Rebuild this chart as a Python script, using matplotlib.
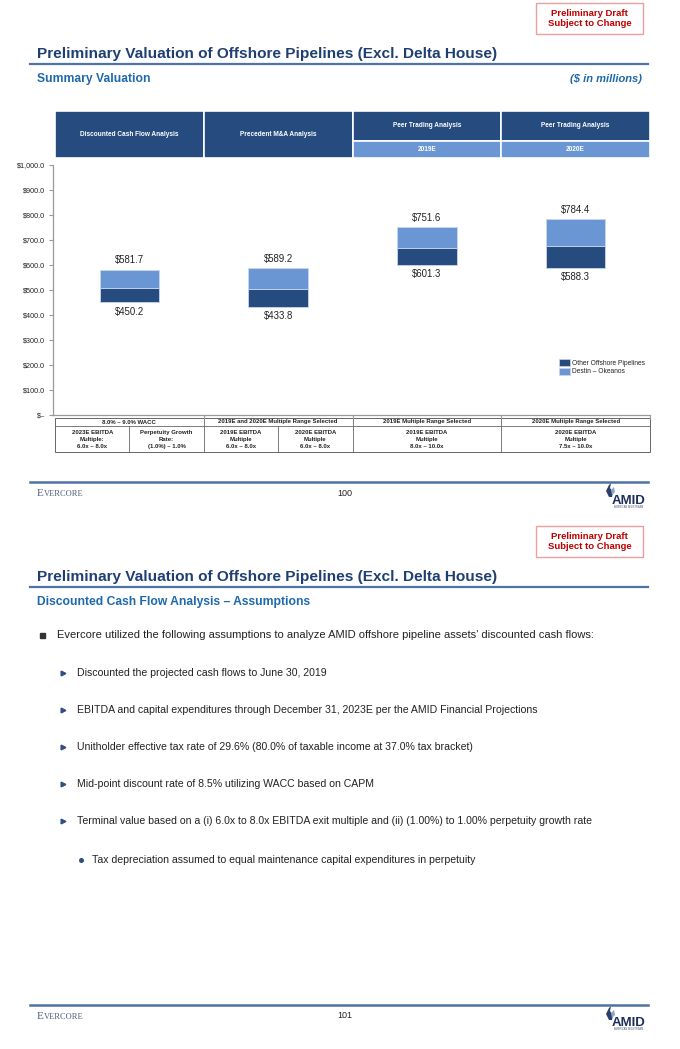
import matplotlib
matplotlib.use("Agg")
import matplotlib.pyplot as plt
from matplotlib.patches import Rectangle, Patch, Polygon

plt.rcParams['font.family'] = ['Liberation Sans', 'DejaVu Sans']

# ---- chart data ----
methods = ["Discounted Cash Flow Analysis", "Precedent M&A Analysis",
           "Peer Trading Analysis", "Peer Trading Analysis"]
periods = ["", "", "2019E", "2020E"]
low_vals = [450.2, 433.8, 601.3, 588.3]
split_vals = [507.5, 505.0, 668.5, 674.5]
high_vals = [581.7, 589.2, 751.6, 784.4]
series_names = ["Other Offshore Pipelines", "Destin \u2013 Okeanos"]
y_ticks = [0, 100, 200, 300, 400, 500, 600, 700, 800, 900, 1000]
y_tick_labels = ["$\u2013", "$100.0", "$200.0", "$300.0", "$400.0", "$500.0",
                 "$600.0", "$700.0", "$800.0", "$900.0", "$1,000.0"]

table_heads = ["8.0% \u2013 9.0% WACC", "2019E and 2020E Multiple Range Selected",
               "2019E Multiple Range Selected", "2020E Multiple Range Selected"]
table_cells = [
    ["2023E EBITDA\nMultiple:\n6.0x \u2013 8.0x", "Perpetuity Growth\nRate:\n(1.0%) \u2013 1.0%"],
    ["2019E EBITDA\nMultiple\n6.0x \u2013 8.0x", "2020E EBITDA\nMultiple\n6.0x \u2013 8.0x"],
    ["2019E EBITDA\nMultiple\n8.0x \u2013 10.0x"],
    ["2020E EBITDA\nMultiple\n7.5x \u2013 10.0x"],
]

title = "Preliminary Valuation of Offshore Pipelines (Excl. Delta House)"
subtitle_1 = "Summary Valuation"
subtitle_2 = "Discounted Cash Flow Analysis \u2013 Assumptions"
main_bullet = ("Evercore utilized the following assumptions to analyze AMID offshore "
               "pipeline assets\u2019 discounted cash flows:")
sub_bullets = [
    "Discounted the projected cash flows to June 30, 2019",
    "EBITDA and capital expenditures through December 31, 2023E per the AMID Financial Projections",
    "Unitholder effective tax rate of 29.6% (80.0% of taxable income at 37.0% tax bracket)",
    "Mid-point discount rate of 8.5% utilizing WACC based on CAPM",
    "Terminal value based on a (i) 6.0x to 8.0x EBITDA exit multiple and (ii) (1.00%) to 1.00% perpetuity growth rate",
]
sub_sub_bullet = "Tax depreciation assumed to equal maintenance capital expenditures in perpetuity"
page_numbers = ["100", "101"]

# ---- colours ----
DARK = "#264B7F"
LIGHT = "#6A97D3"
TITLE_C = "#1F3F74"
SUB_C = "#1E69AC"
LINE_C = "#4F73A6"
TXT = "#222222"

W, H = 680, 1049
fig = plt.figure(figsize=(W / 100, H / 100), dpi=100)
bg = fig.add_axes([0, 0, 1, 1])
bg.set_xlim(0, W)
bg.set_ylim(H, 0)
bg.axis("off")

col_w = 148.75
col_x0 = 55


def slide_header(off, subtitle, right_note=None):
    bg.add_patch(Rectangle((536, off + 3), 107, 31, facecolor="white",
                           edgecolor="#E8A0A0", lw=1))
    bg.text(589.5, off + 18.5, "Preliminary Draft\nSubject to Change", ha="center",
            va="center", color="#C00000", fontsize=6.8, fontweight="bold", linespacing=1.25)
    bg.text(37, off + 54, title, ha="left", va="center", color=TITLE_C,
            fontsize=11.1, fontweight="bold")
    bg.plot([30, 648], [off + 64, off + 64], color=LINE_C, lw=1.6)
    bg.text(37, off + 79, subtitle, ha="left", va="center", color=SUB_C,
            fontsize=8.7, fontweight="bold")
    if right_note:
        bg.text(642, off + 79, right_note, ha="right", va="center", color=SUB_C,
                fontsize=8, fontweight="bold", style="italic")


def slide_footer(y, page):
    bg.plot([30, 648], [y, y], color=LINE_C, lw=1.8)
    bg.text(37, y + 14, "E", ha="left", va="baseline", color="#4E5F7D",
            fontsize=8, family="Liberation Serif")
    bg.text(43.5, y + 14, "VERCORE", ha="left", va="baseline", color="#4E5F7D",
            fontsize=6, family="Liberation Serif")
    bg.text(345, y + 11, page, ha="center", va="center", color=TXT, fontsize=6.5)
    # AMID logo
    bg.add_patch(Polygon([[609, y + 15], [606, y + 9], [609, y + 3], [611, y + 1],
                          [610, y + 6], [613, y + 10], [612, y + 15]],
                         closed=True, facecolor="#2C3E6B", edgecolor="none"))
    bg.add_patch(Polygon([[612, y + 13], [611, y + 8], [614, y + 5], [615, y + 10]],
                         closed=True, facecolor="#8AA7C9", edgecolor="none"))
    bg.text(629, y + 18.5, "AMID", ha="center", va="center", color="#1F2F5C",
            fontsize=9.5, fontweight="bold")
    bg.text(629, y + 24.5, "AMERICAN MIDSTREAM", ha="center", va="center",
            color="#4E5F7D", fontsize=1.8)


# ================= slide 1 =================
slide_header(0, subtitle_1, "($ in millions)")

# column headers
for i, (m, p) in enumerate(zip(methods, periods)):
    x0 = col_x0 + i * col_w
    if p:
        bg.add_patch(Rectangle((x0, 111), col_w, 30, facecolor=DARK, edgecolor="white", lw=1.2))
        bg.add_patch(Rectangle((x0, 141), col_w, 17, facecolor=LIGHT, edgecolor="white", lw=1.2))
        bg.text(x0 + col_w / 2, 125.5, m, ha="center", va="center", color="white",
                fontsize=4.7, fontweight="bold")
        bg.text(x0 + col_w / 2, 149.5, p, ha="center", va="center", color="white",
                fontsize=4.7, fontweight="bold")
    else:
        bg.add_patch(Rectangle((x0, 111), col_w, 47, facecolor=DARK, edgecolor="white", lw=1.2))
        bg.text(x0 + col_w / 2, 134, m, ha="center", va="center", color="white",
                fontsize=4.7, fontweight="bold")

# bar chart
ax = fig.add_axes([53 / W, 1 - 415 / H, 597 / W, 250 / H])
ax.patch.set_alpha(0)
x = list(range(len(methods)))
dark_h = [s - l for s, l in zip(split_vals, low_vals)]
light_h = [h - s for h, s in zip(high_vals, split_vals)]
ax.bar(x, dark_h, bottom=low_vals, width=0.4, color=DARK, edgecolor="#C9D6EA",
       lw=0.6, label=series_names[0])
ax.bar(x, light_h, bottom=split_vals, width=0.4, color=LIGHT, edgecolor="#C9D6EA",
       lw=0.6, label=series_names[1])
for i in x:
    ax.annotate(f"${high_vals[i]:.1f}", (i, high_vals[i]), xytext=(0, 3),
                textcoords="offset points", ha="center", va="bottom",
                fontsize=6.9, color=TXT)
    ax.annotate(f"${low_vals[i]:.1f}", (i, low_vals[i]), xytext=(0, -3),
                textcoords="offset points", ha="center", va="top",
                fontsize=6.9, color=TXT)

ax.set_xlim(-0.5 - 2 / col_w, 3.5)
ax.set_ylim(0, 1000)
ax.set_yticks(y_ticks)
ax.set_yticklabels(y_tick_labels)
ax.set_xticks([0.5, 1.5, 2.5, 3.5])
ax.set_xticklabels([])
ax.tick_params(axis="y", length=3, color="#999999", labelsize=5.2, pad=2.5, labelcolor=TXT)
ax.tick_params(axis="x", length=3, color="#999999")
for s in ["top", "right"]:
    ax.spines[s].set_visible(False)
for s in ["left", "bottom"]:
    ax.spines[s].set_color("#999999")
    ax.spines[s].set_linewidth(0.9)

ax.legend(handles=[Patch(facecolor=DARK, edgecolor="#C9D6EA", lw=0.5),
                   Patch(facecolor=LIGHT, edgecolor="#C9D6EA", lw=0.5)],
          labels=series_names, loc="upper left",
          bbox_to_anchor=(559 / W, 1 - 359 / H), bbox_transform=fig.transFigure,
          frameon=False, fontsize=4.8, handlelength=1.6, handleheight=1.2,
          handletextpad=0.3, labelspacing=0.15, borderpad=0, borderaxespad=0,
          labelcolor=TXT)

# table under the chart
t_top, t_mid, t_bot = 418, 426, 452
tc = "#666666"
bg.add_patch(Rectangle((col_x0, t_top), 4 * col_w, t_bot - t_top, facecolor="none",
                       edgecolor=tc, lw=0.7))
bg.plot([col_x0, col_x0 + 4 * col_w], [t_mid, t_mid], color=tc, lw=0.6)
for i, (head, cells) in enumerate(zip(table_heads, table_cells)):
    x0 = col_x0 + i * col_w
    if i > 0:
        bg.plot([x0, x0], [t_top, t_bot], color=tc, lw=0.6)
    bg.text(x0 + col_w / 2, (t_top + t_mid) / 2, head, ha="center", va="center",
            fontsize=4.3, fontweight="bold", color=TXT)
    cw = col_w / len(cells)
    for j, c in enumerate(cells):
        cx = x0 + j * cw
        if j > 0:
            bg.plot([cx, cx], [t_mid, t_bot], color=tc, lw=0.6)
        bg.text(cx + cw / 2, (t_mid + t_bot) / 2 + 0.5, c, ha="center", va="center",
                fontsize=4.3, fontweight="bold", color=TXT, linespacing=1.45)

slide_footer(482, page_numbers[0])

# ================= slide 2 =================
off = 523
slide_header(off, subtitle_2)

bg.plot([42], [635], marker="s", markersize=3.6, color="#333333")
bg.text(57, 635, main_bullet, ha="left", va="center", color=TXT, fontsize=8.0)
for k, b in enumerate(sub_bullets):
    yy = 672.5 + k * 37.2
    bg.plot([62.5], [yy], marker=">", markersize=3.4, color="#2F4F80")
    bg.text(77, yy, b, ha="left", va="center", color=TXT, fontsize=7.6)
bg.plot([80.5], [860], marker="o", markersize=2.6, color="#2F4F80")
bg.text(92, 860, sub_sub_bullet, ha="left", va="center", color=TXT, fontsize=7.6)

slide_footer(1005, page_numbers[1])

fig.savefig("out.png", dpi=100)
